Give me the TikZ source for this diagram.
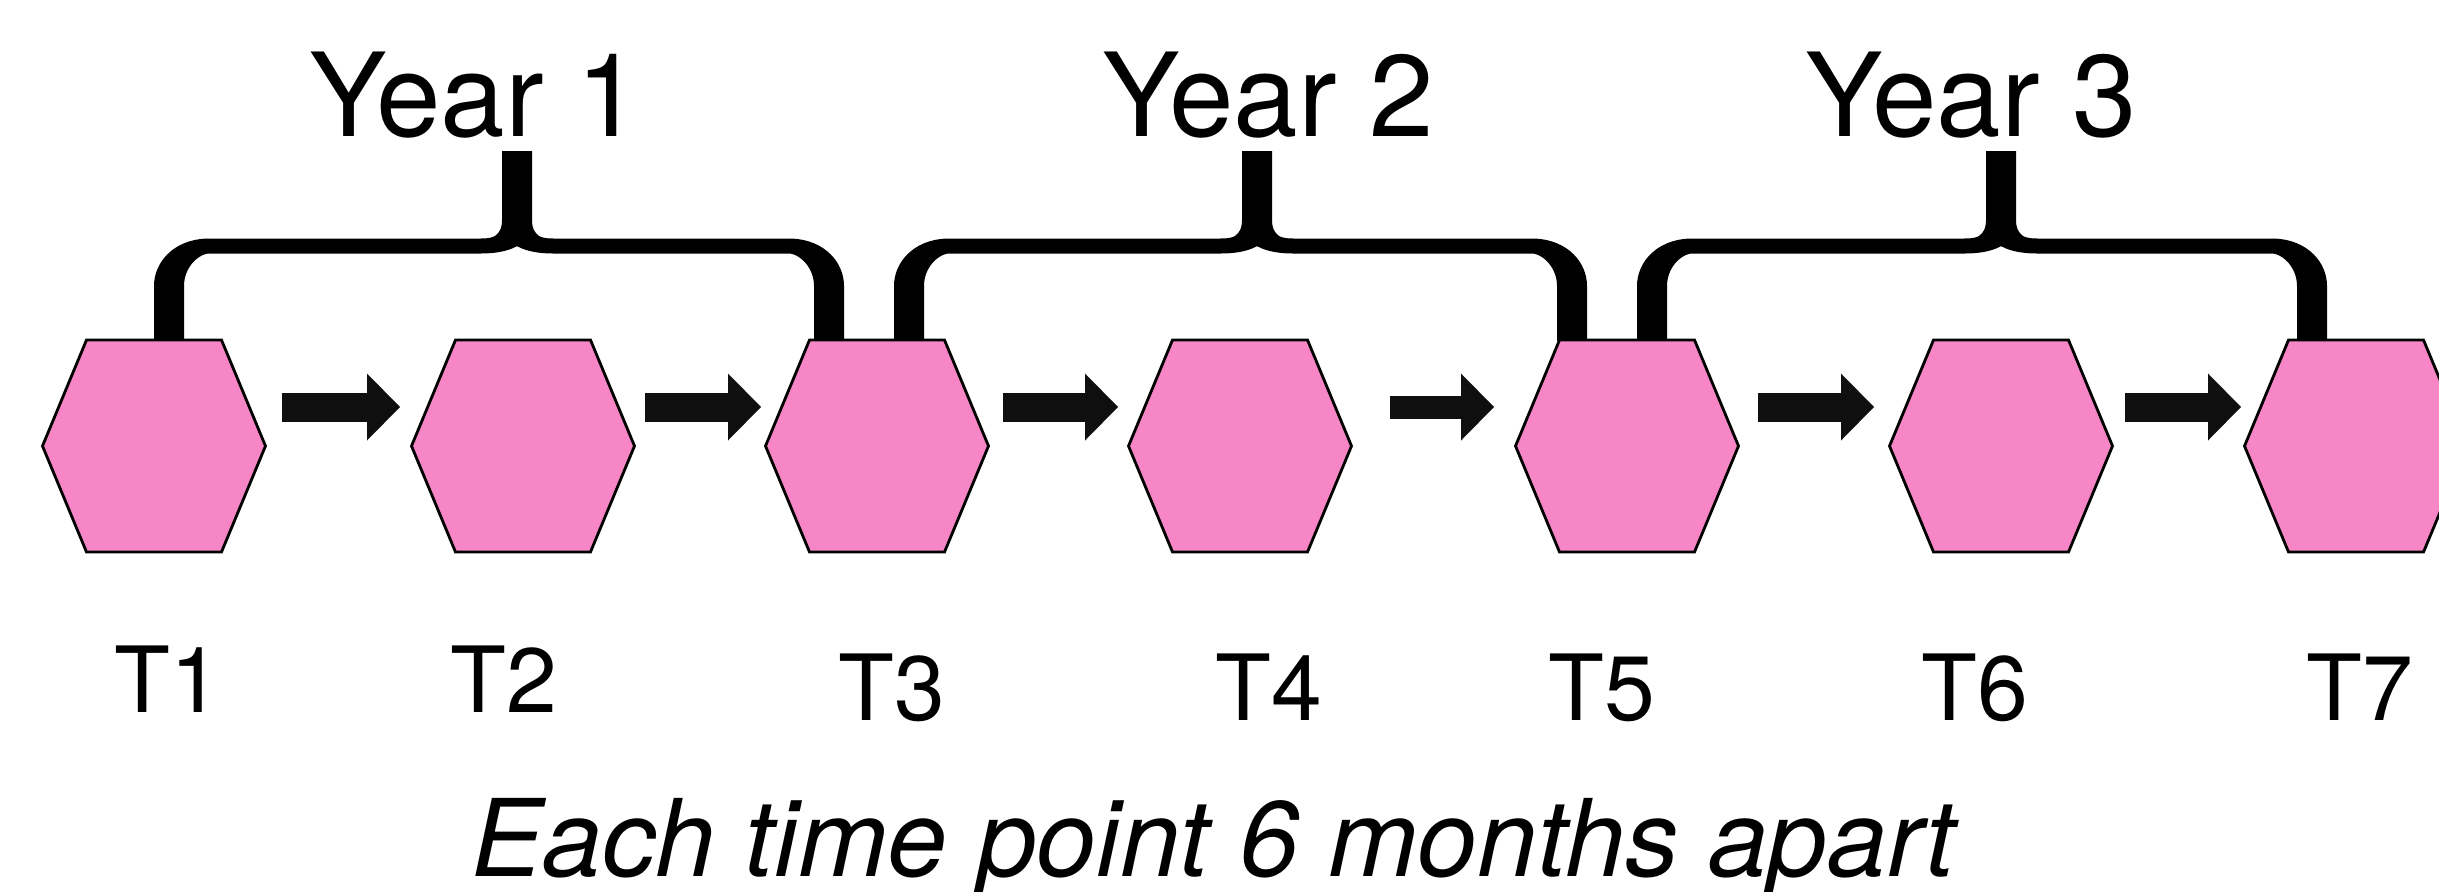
\documentclass[tikz,border=0pt]{standalone}
\usepackage{fontspec}
\setmainfont{TeX Gyre Heros}
\usetikzlibrary{arrows.meta}
\definecolor{hexpink}{RGB}{247,134,199}
\definecolor{arrowblack}{RGB}{15,15,15}
\tikzset{
  timepoint/.style={minimum width=2.230cm,minimum height=2.120cm,inner sep=0pt,outer sep=0pt},
  hexline/.style={draw=black,fill=hexpink,line width=0.8pt,line join=miter},
  steparrow/.style={draw=arrowblack,line width=0.290cm,
    -{Triangle[length=0.330cm,width=0.670cm,line width=0pt]}},
  bracket/.style={line width=0.150cm,line cap=butt},
  yearlabel/.style={font=\fontsize{33}{39}\selectfont,anchor=base,inner sep=0pt},
  timelabel/.style={font=\fontsize{26}{31}\selectfont,anchor=base,inner sep=0pt},
}

\begin{document}
\begin{tikzpicture}
\useasboundingbox (0.000,0.000) rectangle (24.390,-8.920);
\clip (0.000,0.000) rectangle (24.390,-8.920);
% braces
\begin{scope}[transform canvas={xscale=2}]
\draw[bracket] (0.845,-3.410) -- (0.845,-2.860) .. controls (0.845,-2.640) and (0.935,-2.460) .. (1.045,-2.460) -- (2.405,-2.460) .. controls (2.525,-2.460) and (2.585,-2.380) .. (2.585,-2.200) -- (2.585,-1.510)
  (2.585,-2.200) .. controls (2.585,-2.380) and (2.645,-2.460) .. (2.765,-2.460) -- (3.945,-2.460) .. controls (4.055,-2.460) and (4.145,-2.640) .. (4.145,-2.860) -- (4.145,-3.410);
\draw[bracket] (4.545,-3.410) -- (4.545,-2.860) .. controls (4.545,-2.640) and (4.635,-2.460) .. (4.745,-2.460) -- (6.105,-2.460) .. controls (6.225,-2.460) and (6.285,-2.380) .. (6.285,-2.200) -- (6.285,-1.510)
  (6.285,-2.200) .. controls (6.285,-2.380) and (6.345,-2.460) .. (6.465,-2.460) -- (7.660,-2.460) .. controls (7.770,-2.460) and (7.860,-2.640) .. (7.860,-2.860) -- (7.860,-3.410);
\draw[bracket] (8.260,-3.410) -- (8.260,-2.860) .. controls (8.260,-2.640) and (8.350,-2.460) .. (8.460,-2.460) -- (9.825,-2.460) .. controls (9.945,-2.460) and (10.005,-2.380) .. (10.005,-2.200) -- (10.005,-1.510)
  (10.005,-2.200) .. controls (10.005,-2.380) and (10.065,-2.460) .. (10.185,-2.460) -- (11.360,-2.460) .. controls (11.470,-2.460) and (11.560,-2.640) .. (11.560,-2.860) -- (11.560,-3.410);
\end{scope}
\node[yearlabel] (year1) at (4.750,-1.360) {Year 1};
\node[yearlabel] (year2) at (12.680,-1.360) {Year 2};
\node[yearlabel] (year3) at (19.710,-1.360) {Year 3};
% time points
\node[timepoint] (t1) at (1.540,-4.460) {};
\node[timepoint] (t2) at (5.230,-4.460) {};
\node[timepoint] (t3) at (8.770,-4.460) {};
\node[timepoint] (t4) at (12.400,-4.460) {};
\node[timepoint] (t5) at (16.270,-4.460) {};
\node[timepoint] (t6) at (20.010,-4.460) {};
\node[timepoint] (t7) at (23.560,-4.460) {};
\foreach \n in {t1,t2,t3,t4,t5,t6,t7}
  \draw[hexline] ([xshift=0.440cm]\n.north west) -- ([xshift=-0.440cm]\n.north east) -- (\n.east)
    -- ([xshift=-0.440cm]\n.south east) -- ([xshift=0.440cm]\n.south west) -- (\n.west) -- cycle;
\draw[steparrow] ([shift={(0.165,0.390)}]t1.east) -- ([shift={(-0.115,0.390)}]t2.west);
\draw[steparrow] ([shift={(0.105,0.390)}]t2.east) -- ([shift={(-0.045,0.390)}]t3.west);
\draw[steparrow] ([shift={(0.145,0.390)}]t3.east) -- ([shift={(-0.105,0.390)}]t4.west);
\draw[steparrow,line width=0.230cm] ([shift={(0.385,0.390)}]t4.east) -- ([shift={(-0.215,0.390)}]t5.west);
\draw[steparrow] ([shift={(0.195,0.390)}]t5.east) -- ([shift={(-0.155,0.390)}]t6.west);
\draw[steparrow] ([shift={(0.125,0.390)}]t6.east) -- ([shift={(-0.035,0.390)}]t7.west);
\node[timelabel] (l1) at (1.680,-7.120) {T1};
\node[timelabel] (l2) at (5.040,-7.120) {T2};
\node[timelabel] (l3) at (8.920,-7.200) {T3};
\node[timelabel] (l4) at (12.690,-7.200) {T4};
\node[timelabel] (l5) at (16.020,-7.200) {T5};
\node[timelabel] (l6) at (19.750,-7.200) {T6};
\node[timelabel] (l7) at (23.600,-7.200) {T7};
\node[font=\fontsize{30.5}{36}\selectfont\itshape,anchor=base,inner sep=0pt] (note) at (12.130,-8.760) {Each time point 6 months apart};
\end{tikzpicture}
\end{document}
